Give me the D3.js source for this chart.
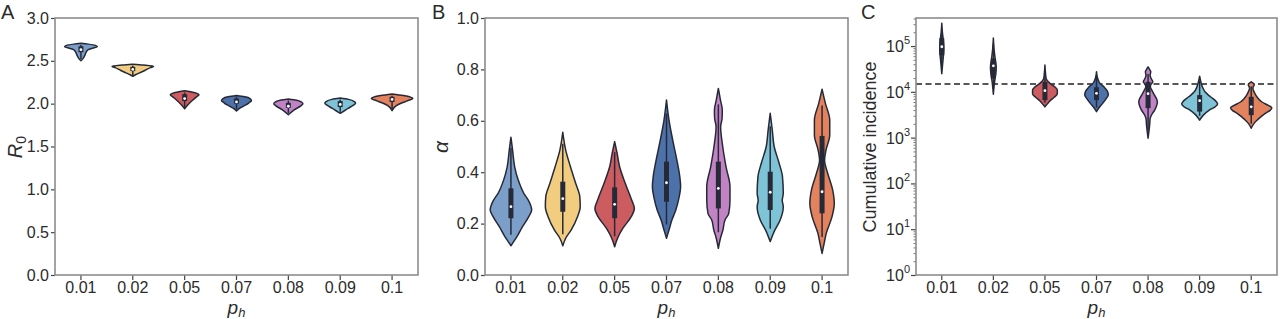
<!DOCTYPE html>
<html>
<head>
<meta charset="utf-8">
<script src="https://cdn.jsdelivr.net/npm/d3@7"></script>
<style>
  body { margin: 0; background: #fff; }
  svg { display: block; font-family: "Liberation Sans", Arial, sans-serif; }
</style>
</head>
<body>
<div id="chart"></div>
<script>
const categories = ["0.01", "0.02", "0.05", "0.07", "0.08", "0.09", "0.1"];
const colors = ["#7b9fc9", "#f2cd80", "#cd5c61", "#4d72aa", "#c283c4", "#7ec4d6", "#e3825c"];

// panel A: R0, violin outline as [value, relative half-width]
const r0Profiles = [
  [[2.705, 0], [2.695, 0.35], [2.68, 0.7], [2.665, 0.79], [2.65, 0.6], [2.63, 0.35], [2.60, 0.25], [2.56, 0.18], [2.52, 0.08], [2.50, 0]],
  [[2.46, 0], [2.45, 0.5], [2.435, 1.0], [2.42, 0.85], [2.39, 0.6], [2.36, 0.33], [2.34, 0.15], [2.32, 0]],
  [[2.15, 0], [2.13, 0.45], [2.105, 0.69], [2.08, 0.57], [2.04, 0.38], [1.99, 0.17], [1.94, 0]],
  [[2.095, 0], [2.08, 0.4], [2.06, 0.65], [2.035, 0.72], [2.01, 0.6], [1.985, 0.45], [1.95, 0.18], [1.915, 0]],
  [[2.055, 0], [2.04, 0.4], [2.02, 0.62], [2.0, 0.70], [1.975, 0.6], [1.93, 0.3], [1.87, 0]],
  [[2.065, 0], [2.05, 0.4], [2.025, 0.68], [2.005, 0.74], [1.98, 0.62], [1.945, 0.38], [1.905, 0.12], [1.888, 0]],
  [[2.113, 0], [2.095, 0.55], [2.07, 0.95], [2.06, 1.0], [2.04, 0.8], [2.02, 0.6], [1.99, 0.3], [1.96, 0.12], [1.918, 0]]
];
const r0Quartiles = [[2.60, 2.63, 2.67], [2.38, 2.40, 2.43], [2.03, 2.06, 2.11], [2.00, 2.02, 2.06], [1.95, 1.97, 2.01], [1.96, 1.99, 2.03], [2.02, 2.05, 2.08]];

// panel B: alpha
const alphaProfiles = [
  [[0.536, 0], [0.486, 0.08], [0.421, 0.18], [0.37, 0.35], [0.318, 0.62], [0.292, 0.83], [0.253, 1.0], [0.227, 0.86], [0.188, 0.56], [0.149, 0.29], [0.114, 0]],
  [[0.555, 0], [0.486, 0.14], [0.421, 0.37], [0.357, 0.62], [0.305, 0.82], [0.266, 0.84], [0.227, 0.71], [0.175, 0.40], [0.143, 0.14], [0.114, 0]],
  [[0.519, 0], [0.473, 0.12], [0.421, 0.24], [0.357, 0.51], [0.292, 0.82], [0.259, 0.95], [0.227, 0.80], [0.182, 0.40], [0.143, 0.14], [0.11, 0]],
  [[0.681, 0], [0.603, 0.12], [0.525, 0.30], [0.447, 0.50], [0.383, 0.64], [0.344, 0.68], [0.30, 0.60], [0.253, 0.45], [0.214, 0.26], [0.175, 0.12], [0.143, 0]],
  [[0.726, 0], [0.681, 0.10], [0.642, 0.19], [0.61, 0.18], [0.577, 0.11], [0.50, 0.21], [0.421, 0.37], [0.344, 0.56], [0.292, 0.56], [0.24, 0.50], [0.214, 0.32], [0.175, 0.22], [0.149, 0.12], [0.104, 0]],
  [[0.629, 0], [0.564, 0.10], [0.50, 0.19], [0.435, 0.43], [0.383, 0.59], [0.318, 0.63], [0.29, 0.58], [0.266, 0.63], [0.214, 0.48], [0.169, 0.19], [0.13, 0]],
  [[0.723, 0], [0.668, 0.16], [0.603, 0.37], [0.545, 0.37], [0.486, 0.19], [0.447, 0.12], [0.396, 0.27], [0.331, 0.51], [0.279, 0.59], [0.227, 0.48], [0.162, 0.20], [0.123, 0.10], [0.084, 0]]
];
const alphaQuartiles = [[0.221, 0.266, 0.337], [0.246, 0.297, 0.363], [0.221, 0.275, 0.341], [0.285, 0.359, 0.441], [0.259, 0.337, 0.441], [0.253, 0.322, 0.402], [0.240, 0.324, 0.541]];

// panel C: cumulative incidence (log axis)
const incidenceProfiles = [
  [[3.16e5, 0], [2.0e5, 0.03], [1.26e5, 0.08], [8.9e4, 0.1], [6.3e4, 0.08], [4.0e4, 0.04], [2.5e4, 0]],
  [[1.5e5, 0], [8.9e4, 0.03], [5.6e4, 0.08], [3.5e4, 0.14], [2.5e4, 0.12], [1.8e4, 0.07], [1.26e4, 0.03], [8.9e3, 0]],
  [[3.85e4, 0], [2.5e4, 0.03], [1.95e4, 0.06], [1.55e4, 0.23], [1.26e4, 0.5], [1.1e4, 0.6], [9.1e3, 0.6], [7.6e3, 0.45], [6.3e3, 0.24], [5.2e3, 0.08], [4.7e3, 0]],
  [[2.75e4, 0], [2.0e4, 0.05], [1.55e4, 0.16], [1.26e4, 0.38], [1.05e4, 0.52], [8.5e3, 0.57], [7.1e3, 0.47], [5.6e3, 0.3], [4.5e3, 0.12], [3.7e3, 0]],
  [[3.5e4, 0], [3.0e4, 0.09], [2.75e4, 0.13], [2.3e4, 0.1], [1.95e4, 0.15], [1.66e4, 0.23], [1.45e4, 0.14], [1.29e4, 0.11], [1.05e4, 0.2], [8.5e3, 0.31], [6.9e3, 0.42], [5.9e3, 0.45], [4.8e3, 0.4], [4.0e3, 0.32], [3.2e3, 0.18], [2.6e3, 0.1], [2.0e3, 0.08], [1.6e3, 0.06], [970, 0]],
  [[2.2e4, 0], [1.58e4, 0.07], [1.26e4, 0.14], [1.0e4, 0.26], [8.3e3, 0.45], [7.2e3, 0.63], [6.0e3, 0.82], [5.4e3, 0.87], [4.7e3, 0.75], [4.0e3, 0.47], [3.1e3, 0.18], [2.4e3, 0]],
  [[1.66e4, 0], [1.51e4, 0.12], [1.41e4, 0.14], [1.29e4, 0.1], [1.2e4, 0.08], [1.0e4, 0.14], [8.5e3, 0.22], [7.1e3, 0.35], [6.0e3, 0.52], [5.0e3, 0.85], [4.5e3, 1.0], [3.9e3, 0.9], [3.4e3, 0.68], [2.8e3, 0.45], [2.4e3, 0.28], [2.0e3, 0.12], [1.6e3, 0]]
];
const incidenceQuartiles = [[6.3e4, 9.66e4, 1.48e5], [1.95e4, 3.7e4, 5.37e4], [6.6e3, 1.06e4, 1.66e4], [6.6e3, 9.3e3, 1.26e4], [4.4e3, 9.1e3, 1.66e4], [3.7e3, 6.4e3, 8.5e3], [3.1e3, 4.7e3, 7.8e3]];
const incidenceThreshold = 1.48e4;

const r0Ticks = [0, 0.5, 1.0, 1.5, 2.0, 2.5, 3.0];
const alphaTicks = [0, 0.2, 0.4, 0.6, 0.8, 1.0];
const incidenceTicks = [1, 10, 100, 1e3, 1e4, 1e5];

const width = 1280, height = 319;
const plotTop = 18, plotBottom = 275;
const outline = "#262a38";

const svg = d3.select("#chart").append("svg")
  .attr("width", width)
  .attr("height", height);

function drawPanel(p) {
  const g = svg.append("g");
  const x = d3.scaleBand().domain(categories).range([p.left, p.right]).padding(0);
  const y = p.log
    ? d3.scaleLog().domain(p.domain).range([plotBottom, plotTop])
    : d3.scaleLinear().domain(p.domain).range([plotBottom, plotTop]);
  const w = d3.scaleLinear().domain([0, 1]).range([0, x.bandwidth() * 0.4]);

  // x axis
  const xa = g.append("g")
    .attr("transform", `translate(0,${plotBottom})`)
    .call(d3.axisBottom(x).tickSize(5).tickPadding(1.5));
  xa.select(".domain").remove();
  xa.selectAll("line").attr("stroke", "#444").attr("stroke-width", 1.2);
  xa.selectAll("text").attr("font-size", 16).attr("fill", "#2b2b2b").attr("font-family", "Liberation Sans, Arial, sans-serif");

  // y axis
  if (p.log) {
    const minor = [];
    for (let e = 0; e < 6; e++) for (let k = 2; k <= 9; k++) {
      const v = k * Math.pow(10, e);
      if (v < p.domain[1]) minor.push(v);
    }
    const ym = g.append("g")
      .attr("transform", `translate(${p.left},0)`)
      .call(d3.axisLeft(y).tickValues(minor).tickSize(2.5).tickFormat(() => ""));
    ym.select(".domain").remove();
    ym.selectAll("line").attr("stroke", "#555").attr("stroke-width", 0.8);

    const ya = g.append("g")
      .attr("transform", `translate(${p.left},0)`)
      .call(d3.axisLeft(y).tickValues(p.ticks).tickSize(5).tickFormat(() => ""));
    ya.select(".domain").remove();
    ya.selectAll("line").attr("stroke", "#444").attr("stroke-width", 1.2);

    p.ticks.forEach(t => {
      const txt = g.append("text")
        .attr("x", p.left - 6)
        .attr("y", y(t) + 6)
        .attr("text-anchor", "end")
        .attr("font-size", 16)
        .attr("fill", "#2b2b2b");
      txt.append("tspan").text("10");
      txt.append("tspan")
        .attr("font-size", 11)
        .attr("dy", -8)
        .text(Math.round(Math.log10(t)));
    });
  } else {
    const ya = g.append("g")
      .attr("transform", `translate(${p.left},0)`)
      .call(d3.axisLeft(y).tickValues(p.ticks).tickSize(4).tickPadding(2).tickFormat(d3.format(".1f")));
    ya.select(".domain").remove();
    ya.selectAll("line").attr("stroke", "#444").attr("stroke-width", 1.2);
    ya.selectAll("text").attr("font-size", 16).attr("fill", "#2b2b2b").attr("font-family", "Liberation Sans, Arial, sans-serif");
  }

  // reference line
  if (p.threshold) {
    g.append("line")
      .attr("x1", p.left).attr("x2", p.right)
      .attr("y1", y(p.threshold)).attr("y2", y(p.threshold))
      .attr("stroke", "#222")
      .attr("stroke-width", 1.5)
      .attr("stroke-dasharray", "6,3.5");
  }

  // violins
  p.profiles.forEach((prof, i) => {
    const cx = x(categories[i]) + x.bandwidth() / 2;
    const area = d3.area()
      .y(d => y(d[0]))
      .x0(d => cx - w(d[1]))
      .x1(d => cx + w(d[1]))
      .curve(d3.curveMonotoneY);
    g.append("path")
      .datum(prof)
      .attr("d", area)
      .attr("fill", colors[i])
      .attr("stroke", outline)
      .attr("stroke-width", 1.5)
      .attr("stroke-linejoin", "round");

    // inner box
    const yHi = y(prof[0][0]), yLo = y(prof[prof.length - 1][0]);
    const inset = (yLo - yHi) * 0.1;
    const q = p.quartiles[i];
    g.append("line")
      .attr("x1", cx).attr("x2", cx)
      .attr("y1", yHi + inset).attr("y2", yLo - inset)
      .attr("stroke", outline)
      .attr("stroke-width", 1.5);
    g.append("rect")
      .attr("x", cx - 2.5)
      .attr("width", 5)
      .attr("y", y(q[2]))
      .attr("height", Math.max(1, y(q[0]) - y(q[2])))
      .attr("fill", outline);
    g.append("circle")
      .attr("cx", cx)
      .attr("cy", y(q[1]))
      .attr("r", 1.4)
      .attr("fill", "#fff");
  });

  // frame
  g.append("rect")
    .attr("x", p.left).attr("y", plotTop)
    .attr("width", p.right - p.left)
    .attr("height", plotBottom - plotTop)
    .attr("fill", "none")
    .attr("stroke", "#8c8c8c")
    .attr("stroke-width", 1.6);

  // x label
  const xl = g.append("text")
    .attr("x", (p.left + p.right) / 2)
    .attr("y", 313.5)
    .attr("text-anchor", "middle")
    .attr("font-size", 19)
    .attr("font-style", "italic")
    .attr("fill", "#2b2b2b");
  xl.append("tspan").text("p");
  xl.append("tspan").attr("font-size", 13).attr("dy", 3).text("h");

  // y label
  const yl = g.append("text")
    .attr("transform", `translate(${p.ylabelX},147) rotate(-90)`)
    .attr("text-anchor", "middle")
    .attr("font-size", p.ylabelSize)
    .attr("fill", "#2b2b2b");
  p.ylabel(yl);

  // panel letter
  g.append("text")
    .attr("x", p.letterX)
    .attr("y", 19)
    .attr("font-size", 20)
    .attr("fill", "#2b2b2b")
    .text(p.letter);
}

drawPanel({
  left: 55, right: 418, domain: [0, 3], ticks: r0Ticks,
  profiles: r0Profiles, quartiles: r0Quartiles,
  letter: "A", letterX: 1,
  ylabelX: 22, ylabelSize: 20,
  ylabel: t => {
    t.append("tspan").attr("font-style", "italic").text("R");
    t.append("tspan").attr("font-size", 14).attr("dy", 4).text("0");
  }
});

drawPanel({
  left: 485, right: 848, domain: [0, 1], ticks: alphaTicks,
  profiles: alphaProfiles, quartiles: alphaQuartiles,
  letter: "B", letterX: 432,
  ylabelX: 448, ylabelSize: 21,
  ylabel: t => t.append("tspan").attr("font-style", "italic").text("α")
});

drawPanel({
  left: 916, right: 1277, domain: [1, 4.1e5], ticks: incidenceTicks, log: true,
  profiles: incidenceProfiles, quartiles: incidenceQuartiles,
  threshold: incidenceThreshold,
  letter: "C", letterX: 861,
  ylabelX: 876, ylabelSize: 18,
  ylabel: t => t.text("Cumulative incidence")
});
</script>
</body>
</html>
